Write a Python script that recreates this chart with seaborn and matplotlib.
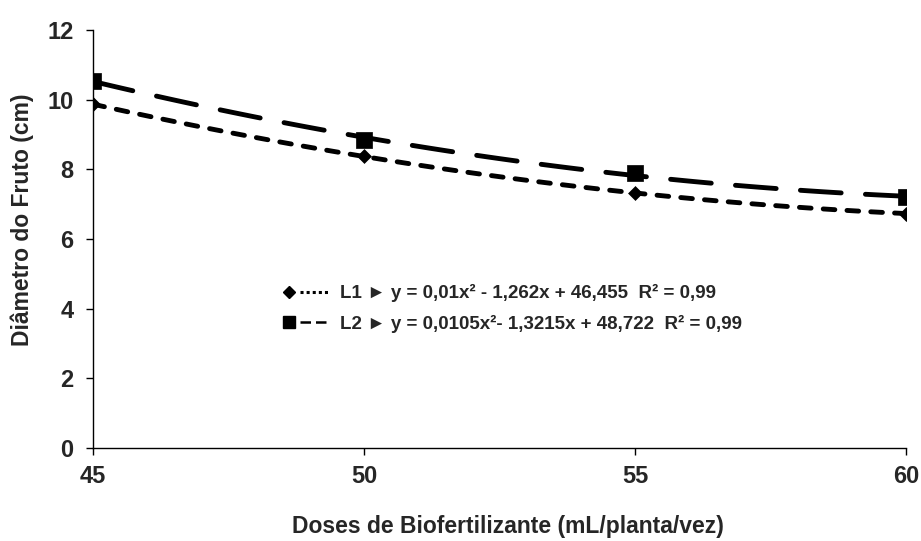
import matplotlib

matplotlib.use("Agg")
import matplotlib.pyplot as plt
import pandas as pd
import seaborn as sns
from matplotlib.legend_handler import HandlerBase
from matplotlib.lines import Line2D

DOSES = [45, 50, 55, 60]
DIAMETRO_L1 = [9.87, 8.37, 7.32, 6.73]
DIAMETRO_L2 = [10.55, 8.84, 7.90, 7.20]
ROTULO_L1 = "L1 ► y = 0,01x² - 1,262x + 46,455  R² = 0,99"
ROTULO_L2 = "L2 ► y = 0,0105x²- 1,3215x + 48,722  R² = 0,99"
Y_TICKS = [0, 2, 4, 6, 8, 10, 12]
X_TICKS = [45, 50, 55, 60]

FONTES = ["Liberation Sans", "DejaVu Sans"]


class MarcadorELinha(HandlerBase):
    # marcador a esquerda, amostra da linha a direita (como no Excel)
    def create_artists(self, legend, orig_handle, xdescent, ydescent, width, height, fontsize, trans):
        y = height / 2 - ydescent
        x0 = -xdescent
        mk = Line2D([x0 + 5], [y], transform=trans)
        mk.update_from(orig_handle)
        mk.set_linestyle("none")
        ln = Line2D([x0 + 13, x0 + width], [y, y], transform=trans)
        ln.update_from(orig_handle)
        ln.set_marker("")
        return [ln, mk]


df = pd.concat(
    [
        pd.DataFrame({"dose": DOSES, "diametro": DIAMETRO_L1, "linha": "L1"}),
        pd.DataFrame({"dose": DOSES, "diametro": DIAMETRO_L2, "linha": "L2"}),
    ],
    ignore_index=True,
)

sns.set_theme(style="white")
plt.rcParams["font.family"] = FONTES
plt.rcParams["font.weight"] = "bold"

fig = plt.figure(figsize=(9.21, 5.41), dpi=100)
ax = fig.add_axes([0.101, 0.172, 0.883, 0.7725])

estilos = {
    "L1": {"dashes": (2.4, 2.5), "marker": "D", "s": 50},
    "L2": {"dashes": (8.4, 5.0), "marker": "s", "s": 135},
}
for linha, sub in df.groupby("linha"):
    est = estilos[linha]
    sns.regplot(
        data=sub, x="dose", y="diametro", order=2, ci=None, scatter=False, truncate=True, ax=ax,
        line_kws={"color": "black", "linewidth": 3.5, "dashes": est["dashes"],
                  "dash_capstyle": "round", "zorder": 2},
    )
    sns.scatterplot(
        data=sub, x="dose", y="diametro", marker=est["marker"], s=est["s"], color="black",
        edgecolor="black", linewidth=0.5, ax=ax, zorder=3, legend=False,
    )

ax.set_xlim(45, 60)
ax.set_ylim(0, 12)
ax.set_xticks(X_TICKS)
ax.set_yticks(Y_TICKS)
ax.tick_params(axis="both", which="major", labelsize=17, length=5, width=1, color="black",
               direction="out", bottom=True, left=True)
ax.tick_params(axis="x", pad=7)
ax.tick_params(axis="y", pad=9)
for lab in ax.get_xticklabels() + ax.get_yticklabels():
    lab.set_fontweight("bold")

sns.despine(ax=ax)
for lado in ["left", "bottom"]:
    ax.spines[lado].set_color("black")
    ax.spines[lado].set_linewidth(1)

ax.set_xlabel("Doses de Biofertilizante (mL/planta/vez)", fontsize=16.5, fontweight="bold", va="center")
ax.set_ylabel("Diâmetro do Fruto (cm)", fontsize=16.5, fontweight="bold", va="center")
ax.xaxis.set_label_coords(0.51, -0.187)
ax.yaxis.set_label_coords(-0.087, 0.545)

h1 = Line2D([], [], color="black", marker="D", markersize=6, linewidth=2.2, linestyle=(0, (1, 1)))
h2 = Line2D([], [], color="black", marker="s", markersize=8, linewidth=1.8, linestyle=(0, (4.2, 2)))
ax.legend(
    [h1, h2], [ROTULO_L1, ROTULO_L2], handler_map={h1: MarcadorELinha(), h2: MarcadorELinha()},
    loc="center", bbox_to_anchor=(0.515, 0.334), frameon=False, borderpad=0, handlelength=2.5,
    handletextpad=0.6, labelspacing=0.65, prop={"family": FONTES, "weight": "bold", "size": 13.5},
)

fig.savefig("out.png", dpi=100)
